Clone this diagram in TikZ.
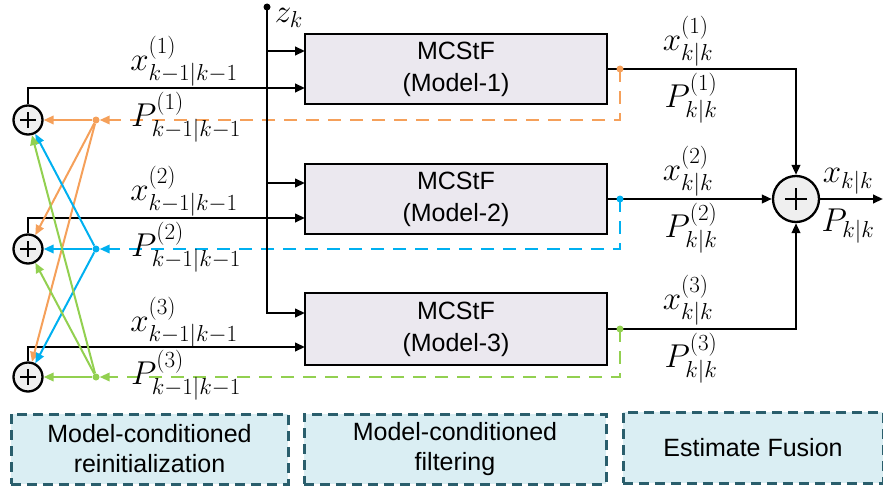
\RequirePackage{fix-cm}
\documentclass[tikz,border=0pt]{standalone}
\usepackage{amsmath}
\usepackage[no-math]{fontspec}
\newfontfamily\sansf{Liberation Sans}
\usetikzlibrary{arrows.meta,calc}
\definecolor{cor}{HTML}{F5A05A}
\definecolor{cbl}{HTML}{00B0F0}
\definecolor{cgr}{HTML}{92D050}
\definecolor{boxfill}{HTML}{EBE8EF}
\definecolor{sumfill}{HTML}{EFEFEF}
\definecolor{stageborder}{HTML}{2A5E6C}
\definecolor{stagefill}{HTML}{DAEEF3}
\begin{document}
\begin{tikzpicture}[x=1pt,y=-1pt,
  blk/.style={line width=2.3pt, black},
  arr/.style={-{Triangle[length=10pt,width=8.5pt]}},
  mbox/.style={draw, line width=2.2pt, fill=boxfill, minimum width=302pt, minimum height=70pt, align=center, inner sep=0pt, font=\sansf\fontsize{25}{32}\selectfont},
  sumc/.style={circle, draw, line width=2.3pt, fill=sumfill, minimum size=29pt, inner sep=0pt},
  lab/.style={font=\fontsize{33}{35}\selectfont, inner sep=0pt},
  dot/.style={circle, fill, inner sep=0pt, minimum size=7pt},
  cline/.style={line width=2pt},
  cdash/.style={line width=2pt, dash pattern=on 13pt off 9pt},
  stage/.style={draw=stageborder, fill=stagefill, line width=3pt, dash pattern=on 10pt off 6pt, align=center, inner sep=0pt, font=\sansf\fontsize{25}{30}\selectfont}
]
\useasboundingbox (0,0) rectangle (883,487);

% filter boxes
\node[mbox] (b1) at (456,69) {MCStF\\(Model-1)};
\node[mbox] (b2) at (456,199) {MCStF\\(Model-2)};
\node[mbox, minimum height=72pt] (b3) at (456,329) {MCStF\\(Model-3)};

% sum nodes
\node[sumc] (s1) at (28,120) {};
\node[sumc] (s2) at (28,249) {};
\node[sumc] (s3) at (28,377) {};
\node[sumc, minimum size=46pt] (f) at (796,199) {};
\foreach \s in {s1,s2,s3}{
  \draw[line width=2pt] ($(\s.center)+(-8,0)$) -- ($(\s.center)+(8,0)$);
  \draw[line width=2pt] ($(\s.center)+(0,-8)$) -- ($(\s.center)+(0,8)$);
}
\draw[line width=2pt] ($(f.center)+(-11,0)$) -- ($(f.center)+(11,0)$);
\draw[line width=2pt] ($(f.center)+(0,-11)$) -- ($(f.center)+(0,11)$);

% input coordinates
\coordinate (i11) at (305,51);
\coordinate (i12) at (305,88);
\coordinate (i21) at (305,183);
\coordinate (i22) at (305,218);
\coordinate (i31) at (305,313);
\coordinate (i32) at (305,347);

% dots
\node[dot, cor] (d1) at (96,120) {};
\node[dot, cbl] (d2) at (96,249) {};
\node[dot, cgr] (d3) at (96,377) {};
\coordinate (o1) at (620,69);
\coordinate (o2) at (620,199);
\coordinate (o3) at (620,329);

% colored dashed feedback
\draw[cor, cdash, arr] (o1) |- (d1);
\draw[cbl, cdash, arr] (o2) |- (d2);
\draw[cgr, cdash, arr] (o3) |- (d3);

% z line
\node[dot, black] (z) at (267,7) {};
\draw[blk, arr] (z.center) |- (i31);
\draw[blk, arr] (z.center |- i11) -- (i11);
\draw[blk, arr] (z.center |- i21) -- (i21);

% x inputs
\draw[blk, arr] (s1.north) |- (i12);
\draw[blk, arr] (s2.north) |- (i22);
\draw[blk, arr] (s3.north) |- (i32);

% outputs
\draw[blk, arr] (b1.east) -| (f.north);
\draw[blk, arr] (b2.east) -- (f.west);
\draw[blk, arr] (b3.east) -| (f.south);
\coordinate (out) at (883,199);
\draw[blk, arr] (f.east) -- (out);

% colored output dots
\fill[cor] (o1) circle (3.5pt);
\fill[cbl] (o2) circle (3.5pt);
\fill[cgr] (o3) circle (3.5pt);

% mixing arrows
\draw[cor, cline, arr] (d1) -- (s1);
\draw[cor, cline, arr] (d1) -- (s2);
\draw[cor, cline, arr] (d1) -- (s3);
\draw[cbl, cline, arr] (d2) -- (s1);
\draw[cbl, cline, arr] (d2) -- (s2);
\draw[cbl, cline, arr] (d2) -- (s3);
\draw[cgr, cline, arr] (d3) -- (s1);
\draw[cgr, cline, arr] (d3) -- (s2);
\draw[cgr, cline, arr] (d3) -- (s3);

% labels
\node[lab] (zl) at (289,18) {$z_k$};
\node[lab] (lx1) at (184,61) {$x^{(1)}_{k-1|k-1}$};
\node[lab] (lp1) at (186,117) {$P^{(1)}_{k-1|k-1}$};
\node[lab] (lx2) at (184,191) {$x^{(2)}_{k-1|k-1}$};
\node[lab] (lp2) at (186,247) {$P^{(2)}_{k-1|k-1}$};
\node[lab] (lx3) at (184,322) {$x^{(3)}_{k-1|k-1}$};
\node[lab] (lp3) at (186,375) {$P^{(3)}_{k-1|k-1}$};
\node[lab] (rx1) at (688,41) {$x^{(1)}_{k|k}$};
\node[lab] (rp1) at (691,98) {$P^{(1)}_{k|k}$};
\node[lab] (rx2) at (688,171) {$x^{(2)}_{k|k}$};
\node[lab] (rp2) at (691,228) {$P^{(2)}_{k|k}$};
\node[lab] (rx3) at (688,300) {$x^{(3)}_{k|k}$};
\node[lab] (rp3) at (691,358) {$P^{(3)}_{k|k}$};
\node[lab] (ox) at (848,181) {$x_{k|k}$};
\node[lab] (op) at (848,226) {$P_{k|k}$};

% stage boxes
\node[stage, minimum width=277pt, minimum height=70pt] (st1) at (149.5,449) {Model-conditioned\\reinitialization};
\node[stage, minimum width=302pt, minimum height=70pt] (st2) at (455,449) {Model-conditioned\\filtering};
\node[stage, minimum width=260pt, minimum height=71pt] (st3) at (753,447.5) {Estimate Fusion};
\end{tikzpicture}
\end{document}
